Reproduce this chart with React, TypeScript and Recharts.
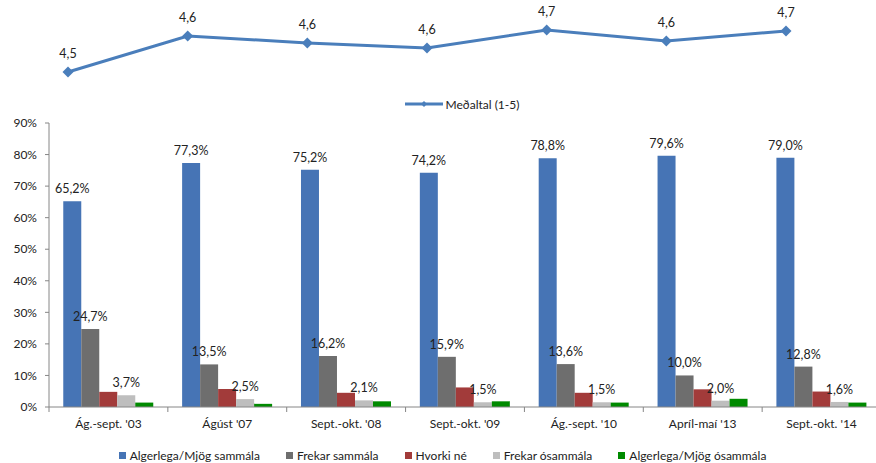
import {
  LineChart,
  Line,
  BarChart,
  Bar,
  XAxis,
  YAxis,
  LabelList,
  Legend,
} from "recharts";

const periods = [
  "Ág.-sept. '03",
  "Ágúst '07",
  "Sept.-okt. '08",
  "Sept.-okt. '09",
  "Ág.-sept. '10",
  "Apríl-maí '13",
  "Sept.-okt. '14",
];

// Meðaltal (1-5)
const average = [4.52, 4.64, 4.617, 4.6, 4.66, 4.623, 4.657];

// percentages
const fullyAgree = [65.2, 77.3, 75.2, 74.2, 78.8, 79.6, 79.0];
const ratherAgree = [24.7, 13.5, 16.2, 15.9, 13.6, 10.0, 12.8];
const neither = [4.8, 5.7, 4.5, 6.2, 4.5, 5.6, 4.9];
const ratherDisagree = [3.7, 2.5, 2.1, 1.5, 1.5, 2.0, 1.6];
const fullyDisagree = [1.4, 1.0, 1.8, 1.8, 1.4, 2.6, 1.4];

const yTicks = [0, 10, 20, 30, 40, 50, 60, 70, 80, 90];

const FONT = "Lato, 'Liberation Sans', sans-serif";
const TEXT = "#222";
const AXIS = "#868686";
const LINE_BLUE = "#4a7ebb";

const series = [
  { key: "fullyAgree", name: "Algerlega/Mjög sammála", color: "#4674b5", label: true },
  { key: "ratherAgree", name: "Frekar sammála", color: "#6e6e6e", label: true },
  { key: "neither", name: "Hvorki né", color: "#a23b3a", label: false },
  { key: "ratherDisagree", name: "Frekar ósammála", color: "#bebebe", label: true },
  { key: "fullyDisagree", name: "Algerlega/Mjög ósammála", color: "#008a00", label: false },
];

const lineData = periods.map((p, i) => ({ period: p, avg: average[i] }));

const barData = periods.map((p, i) => ({
  period: p,
  fullyAgree: fullyAgree[i],
  ratherAgree: ratherAgree[i],
  neither: neither[i],
  ratherDisagree: ratherDisagree[i],
  fullyDisagree: fullyDisagree[i],
}));

const comma = (v: number, d = 1) => v.toFixed(d).replace(".", ",");

function Diamond(props: any) {
  const { cx, cy } = props;
  if (cx == null || cy == null) return null;
  const r = 5.5;
  return (
    <polygon
      points={`${cx},${cy - r} ${cx + r},${cy} ${cx},${cy + r} ${cx - r},${cy}`}
      fill={LINE_BLUE}
    />
  );
}

function LineLegend() {
  return (
    <div
      style={{
        height: 16,
        display: "flex",
        justifyContent: "center",
        alignItems: "center",
        paddingLeft: 70,
        fontFamily: FONT,
        fontSize: 12,
        color: TEXT,
      }}
    >
      <svg width={38} height={10} style={{ marginRight: 3 }}>
        <line x1={0} y1={5} x2={38} y2={5} stroke={LINE_BLUE} strokeWidth={3} />
        <polygon points="19,2 22,5 19,8 16,5" fill={LINE_BLUE} />
      </svg>
      <span>Meðaltal (1-5)</span>
    </div>
  );
}

function BarLegend() {
  return (
    <div
      style={{
        height: 16,
        display: "flex",
        justifyContent: "center",
        alignItems: "center",
        paddingLeft: 4,
        fontFamily: FONT,
        fontSize: 12,
        color: TEXT,
        gap: 26,
      }}
    >
      {series.map((s) => (
        <span key={s.key} style={{ display: "flex", alignItems: "center" }}>
          <span
            style={{
              width: 7,
              height: 7,
              background: s.color,
              display: "inline-block",
              marginRight: 4,
            }}
          />
          {s.name}
        </span>
      ))}
    </div>
  );
}

const TICK_SIZE = 5;

function PeriodTick(props: any) {
  const { x, y, payload, index, visibleTicksCount, width } = props;
  const half =
    payload && typeof payload.offset === "number" && payload.offset > 0
      ? payload.offset
      : width / visibleTicksCount / 2;
  const axisY = y - TICK_SIZE;
  const left = x - half;
  const right = x + half;
  return (
    <g>
      <line x1={left} y1={axisY} x2={left} y2={axisY + 5} stroke={AXIS} />
      {index === visibleTicksCount - 1 && (
        <line x1={right} y1={axisY} x2={right} y2={axisY + 5} stroke={AXIS} />
      )}
      <text
        x={x}
        y={axisY + 21}
        textAnchor="middle"
        fontFamily={FONT}
        fontSize={12}
        fill={TEXT}
      >
        {payload.value}
      </text>
    </g>
  );
}

export default function App() {
  return (
    <div
      style={{
        position: "relative",
        width: 876,
        height: 463,
        overflow: "hidden",
        background: "#fff",
      }}
    >
      <style>{"body{margin:0}"}</style>
      <div style={{ position: "absolute", left: 0, top: 0 }}>
        <LineChart
          width={876}
          height={115}
          data={lineData}
          margin={{ top: 3, right: 30, left: 8, bottom: 3 }}
        >
          <XAxis dataKey="period" hide padding={{ left: 60, right: 60 }} />
          <YAxis hide domain={[4.44, 4.75]} />
          <Legend verticalAlign="bottom" content={() => <LineLegend />} />
          <Line
            type="linear"
            dataKey="avg"
            stroke={LINE_BLUE}
            strokeWidth={3}
            dot={<Diamond />}
            activeDot={false}
            isAnimationActive={false}
          >
            <LabelList
              dataKey="avg"
              position="top"
              offset={14}
              formatter={(v: any) => comma(Number(v))}
              style={{ fontFamily: FONT, fontSize: 12.5, fill: TEXT }}
            />
          </Line>
        </LineChart>
      </div>
      <div style={{ position: "absolute", left: 0, top: 110 }}>
        <BarChart
          width={885}
          height={353}
          data={barData}
          margin={{ top: 13, right: 4, left: 0, bottom: 0 }}
          barCategoryGap="12%"
          barGap={0}
        >
          <XAxis
            dataKey="period"
            height={40}
            tickLine={false}
            tickSize={TICK_SIZE}
            tickMargin={0}
            axisLine={{ stroke: AXIS }}
            tick={<PeriodTick />}
            interval={0}
          />
          <YAxis
            width={49}
            domain={[0, 90]}
            ticks={yTicks}
            tickFormatter={(v: number) => `${v}%`}
            axisLine={{ stroke: AXIS }}
            tickLine={{ stroke: AXIS }}
            tickSize={4}
            tickMargin={8}
            tick={{ fontFamily: FONT, fontSize: 12, fill: TEXT }}
          />
          <Legend verticalAlign="bottom" content={() => <BarLegend />} />
          {series.map((s) => (
            <Bar
              key={s.key}
              dataKey={s.key}
              name={s.name}
              fill={s.color}
              isAnimationActive={false}
            >
              {s.label && (
                <LabelList
                  dataKey={s.key}
                  position="top"
                  offset={8}
                  formatter={(v: any) => `${comma(Number(v))}%`}
                  style={{ fontFamily: FONT, fontSize: 12.5, fill: TEXT }}
                />
              )}
            </Bar>
          ))}
        </BarChart>
      </div>
    </div>
  );
}
